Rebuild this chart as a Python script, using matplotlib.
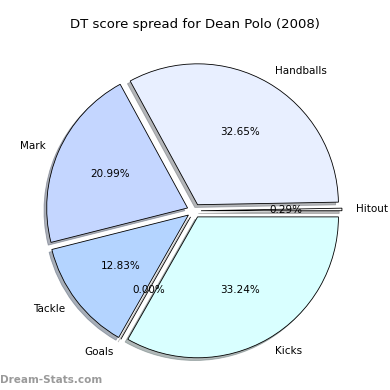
import matplotlib
matplotlib.use('Agg')
import matplotlib.pyplot as plt

# Datos del gráfico
labels = ['Hitout', 'Handballs', 'Mark', 'Tackle', 'Goals', 'Kicks']
values = [0.29, 32.65, 20.99, 12.83, 0.00, 33.24]
colors = ['#ffffff', '#e8efff', '#c4d6ff', '#b4d4ff', '#ffffff', '#d9ffff']
explode = [0.05] * len(values)

fig = plt.figure(figsize=(3.9, 3.9), dpi=100)
ax = fig.add_axes([0.046, 0.008, 0.903, 0.903])

wedges, texts, autotexts = ax.pie(values, labels=labels, colors=colors, explode=explode,
                                  autopct='%1.2f%%', startangle=0,
                                  shadow={'ox': -0.014, 'oy': -0.014, 'shade': 0.55},
                                  wedgeprops={'edgecolor': 'black', 'linewidth': 0.6},
                                  textprops={'fontsize': 7.5})
ax.set_aspect('equal')

fig.text(0.5, 0.936, 'DT score spread for Dean Polo (2008)', ha='center', va='center', fontsize=9.5)
fig.text(0.0, 0.025, 'Dream-Stats.com', ha='left', va='center', fontsize=7.5,
         color='#9a9a9a', fontweight='bold')

fig.savefig('out.png', dpi=100)
